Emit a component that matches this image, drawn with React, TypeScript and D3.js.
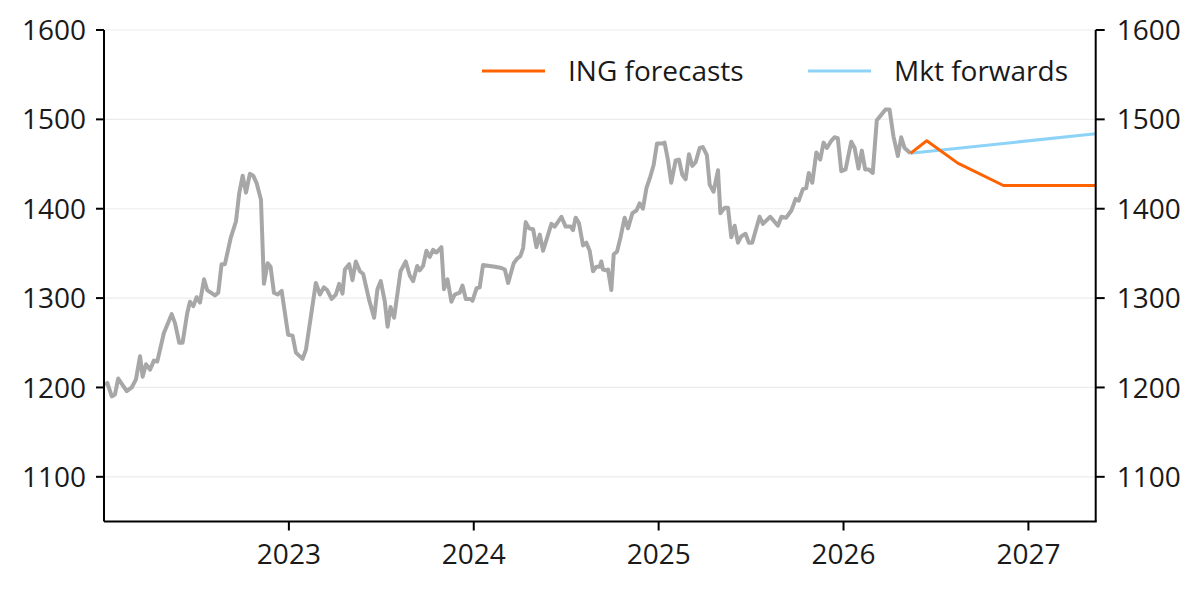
import { useMemo } from 'react';
import * as d3 from 'd3';

const WIDTH = 1200;
const HEIGHT = 589;
const MARGIN = { top: 30, right: 104.3, bottom: 67.5, left: 104 };
const FONT = '"Open Sans", "Liberation Sans", Arial, sans-serif';

// historical series, time as decimal year
const histYears = [
    2022.005, 2022.018, 2022.042, 2022.059, 2022.077, 2022.123, 2022.15, 2022.173, 2022.195, 2022.209,
    2022.227, 2022.249, 2022.27, 2022.288, 2022.324, 2022.366, 2022.384, 2022.407, 2022.425, 2022.45,
    2022.465, 2022.483, 2022.501, 2022.519, 2022.541, 2022.558, 2022.6, 2022.618, 2022.636, 2022.654,
    2022.685, 2022.714, 2022.731, 2022.75, 2022.768, 2022.789, 2022.807, 2022.825, 2022.849, 2022.865,
    2022.885, 2022.901, 2022.919, 2022.939, 2022.961, 2022.996, 2023.02, 2023.038, 2023.074, 2023.092,
    2023.146, 2023.168, 2023.189, 2023.207, 2023.231, 2023.254, 2023.272, 2023.29, 2023.303, 2023.326,
    2023.344, 2023.362, 2023.384, 2023.402, 2023.434, 2023.461, 2023.479, 2023.497, 2023.519, 2023.534,
    2023.55, 2023.569, 2023.604, 2023.632, 2023.654, 2023.672, 2023.694, 2023.708, 2023.726, 2023.744,
    2023.762, 2023.78, 2023.798, 2023.825, 2023.839, 2023.858, 2023.879, 2023.897, 2023.924, 2023.939,
    2023.957, 2023.982, 2023.993, 2024.015, 2024.032, 2024.05, 2024.086, 2024.114, 2024.144, 2024.168,
    2024.186, 2024.216, 2024.234, 2024.252, 2024.267, 2024.281, 2024.299, 2024.321, 2024.339, 2024.357,
    2024.375, 2024.42, 2024.438, 2024.474, 2024.497, 2024.524, 2024.537, 2024.551, 2024.569, 2024.591,
    2024.609, 2024.627, 2024.645, 2024.663, 2024.681, 2024.69, 2024.699, 2024.717, 2024.726, 2024.744,
    2024.757, 2024.775, 2024.795, 2024.816, 2024.834, 2024.858, 2024.88, 2024.897, 2024.915, 2024.934,
    2024.955, 2024.973, 2024.991, 2025.02, 2025.032, 2025.05, 2025.068, 2025.092, 2025.11, 2025.128,
    2025.146, 2025.164, 2025.182, 2025.2, 2025.222, 2025.239, 2025.261, 2025.276, 2025.297, 2025.321,
    2025.334, 2025.357, 2025.375, 2025.393, 2025.411, 2025.429, 2025.447, 2025.47, 2025.488, 2025.506,
    2025.546, 2025.564, 2025.604, 2025.645, 2025.664, 2025.69, 2025.718, 2025.741, 2025.758, 2025.78,
    2025.798, 2025.812, 2025.831, 2025.853, 2025.874, 2025.892, 2025.91, 2025.934, 2025.951, 2025.969,
    2025.988, 2026.011, 2026.042, 2026.06, 2026.081, 2026.099, 2026.117, 2026.137, 2026.158, 2026.18,
    2026.204, 2026.227, 2026.249, 2026.27, 2026.294, 2026.312, 2026.33, 2026.362,
];
const histValues = [
    1203, 1205, 1190, 1192, 1210, 1196, 1200, 1209, 1235, 1212,
    1226, 1220, 1230, 1229, 1261, 1282, 1272, 1250, 1250, 1283,
    1296, 1291, 1301, 1295, 1321, 1309, 1303, 1306, 1338, 1338,
    1367, 1386, 1417, 1437, 1418, 1439, 1437, 1429, 1410, 1316,
    1339, 1335, 1306, 1304, 1308, 1259, 1258, 1239, 1232, 1242,
    1317, 1304, 1312, 1309, 1299, 1304, 1316, 1305, 1332, 1338,
    1320, 1341, 1330, 1327, 1298, 1278, 1310, 1319, 1296, 1268,
    1290, 1278, 1330, 1341, 1325, 1319, 1336, 1331, 1336, 1353,
    1346, 1354, 1351, 1357, 1310, 1321, 1296, 1304, 1306, 1314,
    1299, 1299, 1297, 1311, 1312, 1337, 1336, 1335, 1334, 1332,
    1317, 1339, 1344, 1347, 1356, 1385, 1378, 1377, 1357, 1371,
    1353, 1383, 1380, 1391, 1380, 1380, 1376, 1390, 1384, 1359,
    1362, 1353, 1330, 1335, 1335, 1341, 1332, 1331, 1332, 1309,
    1349, 1352, 1369, 1390, 1378, 1395, 1398, 1406, 1400, 1423,
    1436, 1449, 1473, 1473, 1474, 1455, 1429, 1454, 1455, 1438,
    1433, 1461, 1448, 1452, 1468, 1469, 1460, 1427, 1419, 1443,
    1395, 1401, 1401, 1368, 1381, 1362, 1369, 1372, 1362, 1362,
    1391, 1383, 1391, 1381, 1391, 1390, 1398, 1411, 1409, 1422,
    1423, 1440, 1429, 1463, 1455, 1474, 1468, 1476, 1480, 1479,
    1442, 1444, 1475, 1468, 1445, 1465, 1444, 1444, 1440, 1499,
    1505, 1511, 1511, 1481, 1459, 1480, 1468, 1462,
];

// ING forecasts
const ingYears = [2026.362, 2026.45, 2026.618, 2026.865, 2027.364];
const ingValues = [1462, 1476, 1451, 1426, 1426];

// market forwards
const fwdYears = [2026.362, 2027.364];
const fwdValues = [1462, 1484];

const yTicks = [1100, 1200, 1300, 1400, 1500, 1600];
const xTicks = [2023, 2024, 2025, 2026, 2027];

const legendItems = [
    { label: 'ING forecasts', color: '#ff6200', x: 482 },
    { label: 'Mkt forwards', color: '#8dd3f8', x: 808 },
];

type Pt = { t: number; v: number };

const zip = (ts: number[], vs: number[]): Pt[] => ts.map((t, i) => ({ t, v: vs[i] }));

export default function App() {
    const boundsWidth = WIDTH - MARGIN.left - MARGIN.right;
    const boundsHeight = HEIGHT - MARGIN.top - MARGIN.bottom;

    const xScale = useMemo(
        () => d3.scaleLinear().domain([2022, 2027.364]).range([0, boundsWidth]),
        [boundsWidth]
    );
    const yScale = useMemo(
        () => d3.scaleLinear().domain([1050, 1600]).range([boundsHeight, 0]),
        [boundsHeight]
    );

    const line = d3
        .line<Pt>()
        .x((d) => xScale(d.t))
        .y((d) => yScale(d.v));

    const hist = zip(histYears, histValues);
    const ing = zip(ingYears, ingValues);
    const fwd = zip(fwdYears, fwdValues);

    return (
        <>
            <style>{'body{margin:0}'}</style>
            <svg width={WIDTH} height={HEIGHT} style={{ display: 'block', fontFamily: FONT }}>
                <rect width={WIDTH} height={HEIGHT} fill="#fff" />
                <g transform={`translate(${MARGIN.left},${MARGIN.top})`}>
                    {/* grid */}
                    {yTicks.map((t) => (
                        <line
                            key={`g${t}`}
                            x1={0}
                            x2={boundsWidth}
                            y1={yScale(t)}
                            y2={yScale(t)}
                            stroke="#ececec"
                            strokeWidth={1.2}
                        />
                    ))}

                    {/* series */}
                    <path d={line(hist) || ''} fill="none" stroke="#a7a7a7" strokeWidth={4} strokeLinejoin="round" />
                    <path d={line(fwd) || ''} fill="none" stroke="#8dd3f8" strokeWidth={3} />
                    <path d={line(ing) || ''} fill="none" stroke="#ff6200" strokeWidth={3} strokeLinejoin="round" />

                    {/* left axis */}
                    <line x1={0} x2={0} y1={0} y2={boundsHeight} stroke="#000" strokeWidth={2} />
                    {yTicks.map((t) => (
                        <g key={`l${t}`} transform={`translate(0,${yScale(t)})`}>
                            <line x1={-8} x2={0} stroke="#000" strokeWidth={2} />
                            <text x={-18} dy="0.36em" textAnchor="end" fontSize={28} fill="#1a1a1a">
                                {t}
                            </text>
                        </g>
                    ))}

                    {/* right axis */}
                    <line x1={boundsWidth} x2={boundsWidth} y1={0} y2={boundsHeight} stroke="#000" strokeWidth={2} />
                    {yTicks.map((t) => (
                        <g key={`r${t}`} transform={`translate(${boundsWidth},${yScale(t)})`}>
                            <line x1={0} x2={9} stroke="#000" strokeWidth={2} />
                            <text x={21} dy="0.36em" textAnchor="start" fontSize={28} fill="#1a1a1a">
                                {t}
                            </text>
                        </g>
                    ))}

                    {/* bottom axis */}
                    <line x1={0} x2={boundsWidth + 1} y1={boundsHeight} y2={boundsHeight} stroke="#000" strokeWidth={2} />
                    {xTicks.map((t) => (
                        <g key={`x${t}`} transform={`translate(${xScale(t)},${boundsHeight})`}>
                            <line y1={0} y2={9} stroke="#000" strokeWidth={2} />
                            <text y={42} textAnchor="middle" fontSize={28} fill="#1a1a1a">
                                {t}
                            </text>
                        </g>
                    ))}
                </g>

                {/* legend */}
                {legendItems.map((d) => (
                    <g key={d.label} transform={`translate(${d.x},71)`}>
                        <line x1={0} x2={63} stroke={d.color} strokeWidth={3} />
                        <text x={86} dy="0.36em" fontSize={28} fill="#1a1a1a">
                            {d.label}
                        </text>
                    </g>
                ))}
            </svg>
        </>
    );
}
